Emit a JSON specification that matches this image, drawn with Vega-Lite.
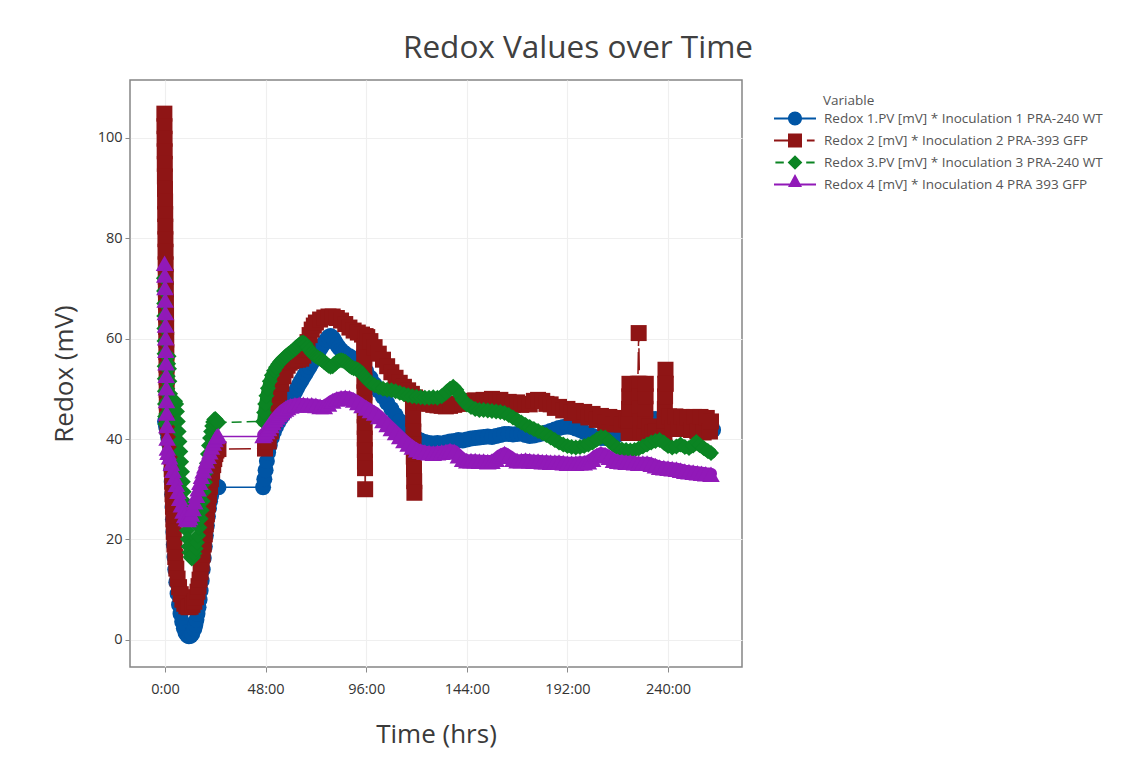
{
"$schema": "https://vega.github.io/schema/vega-lite/v6.json",
"width": 612, "height": 587,
"autosize": {"type": "none"},
"padding": {"left": 130, "top": 80, "right": 401, "bottom": 100},
"background": "white",
"config": {
 "font": "Open Sans",
 "view": {"stroke": "#858585", "strokeWidth": 1.5},
 "axis": {"labelFont": "Open Sans", "titleFont": "Open Sans", "labelColor": "#333333", "titleColor": "#3a3a3a", "titleFontWeight": "normal", "gridColor": "#efefef", "gridWidth": 1.2, "tickColor": "#8a8a8a", "tickSize": 5, "domain": false, "labelFontSize": 14.5, "titleFontSize": 26}
},
"title": {"text": "Redox Values over Time", "font": "Open Sans", "fontSize": 31.5, "fontWeight": "normal", "color": "#404040", "anchor": "middle", "frame": "group", "dx": 142, "offset": 16},
"data": {"values": [
{"s":1,"t":0,"v":43.5},{"s":1,"t":0.5,"v":42.5},{"s":1,"t":1,"v":41.5},{"s":1,"t":1.5,"v":40.3},{"s":1,"t":2,"v":39},{"s":1,"t":2.4,"v":37.5},{"s":1,"t":2.7,"v":36},{"s":1,"t":3,"v":34},{"s":1,"t":3.2,"v":31.5},{"s":1,"t":3.4,"v":29},{"s":1,"t":3.6,"v":26.5},{"s":1,"t":3.8,"v":24},{"s":1,"t":4,"v":21.5},{"s":1,"t":4.2,"v":19},{"s":1,"t":4.5,"v":16.5},{"s":1,"t":4.9,"v":14},{"s":1,"t":5.4,"v":11.5},{"s":1,"t":6,"v":9.2},{"s":1,"t":6.7,"v":7},{"s":1,"t":7.4,"v":5.2},{"s":1,"t":8.2,"v":3.6},{"s":1,"t":9,"v":2.3},{"s":1,"t":9.8,"v":1.4},{"s":1,"t":10.6,"v":0.9},{"s":1,"t":11.4,"v":0.7},{"s":1,"t":12.2,"v":0.8},{"s":1,"t":13,"v":1.2},{"s":1,"t":14,"v":2.2},{"s":1,"t":14.5,"v":3},{"s":1,"t":15,"v":4},{"s":1,"t":15.5,"v":5.2},{"s":1,"t":16,"v":6.5},{"s":1,"t":16.5,"v":8},{"s":1,"t":17,"v":9.8},{"s":1,"t":17.5,"v":11.8},{"s":1,"t":18,"v":14},{"s":1,"t":18.5,"v":16.3},{"s":1,"t":19,"v":18.6},{"s":1,"t":19.5,"v":20.8},{"s":1,"t":20,"v":22.8},{"s":1,"t":20.5,"v":24.6},{"s":1,"t":21,"v":26.2},{"s":1,"t":21.5,"v":27.6},{"s":1,"t":22,"v":28.7},{"s":1,"t":22.5,"v":29.6},{"s":1,"t":23,"v":30.2},{"s":1,"t":23.5,"v":30.5},{"s":1,"t":24,"v":30.6},{"s":1,"t":25,"v":30.5},{"s":1,"t":25.5,"v":30.4},
{"s":1,"t":46.8,"v":30.4},{"s":1,"t":47.4,"v":32},{"s":1,"t":48,"v":33.8},{"s":1,"t":48.6,"v":35.6},{"s":1,"t":49.2,"v":37.3},{"s":1,"t":50,"v":38.8},{"s":1,"t":51,"v":40.3},{"s":1,"t":52,"v":41.5},{"s":1,"t":53,"v":42.5},{"s":1,"t":54,"v":43.3},{"s":1,"t":55,"v":44},{"s":1,"t":56,"v":44.6},{"s":1,"t":57,"v":45.3},{"s":1,"t":58,"v":46},{"s":1,"t":59,"v":46.8},{"s":1,"t":60,"v":47.6},{"s":1,"t":61,"v":48.5},{"s":1,"t":62,"v":49.3},{"s":1,"t":63,"v":50.1},{"s":1,"t":64,"v":50.9},{"s":1,"t":65,"v":51.6},{"s":1,"t":66,"v":52.3},{"s":1,"t":67,"v":53},{"s":1,"t":68,"v":53.7},{"s":1,"t":69,"v":54.4},{"s":1,"t":70,"v":55.1},{"s":1,"t":71,"v":55.8},{"s":1,"t":72,"v":56.5},{"s":1,"t":73,"v":57.2},{"s":1,"t":74,"v":57.9},{"s":1,"t":75,"v":58.6},{"s":1,"t":76,"v":59.2},{"s":1,"t":77,"v":59.8},{"s":1,"t":78,"v":60.3},{"s":1,"t":79,"v":60.5},{"s":1,"t":80,"v":60.2},{"s":1,"t":81,"v":59.5},{"s":1,"t":82,"v":58.8},{"s":1,"t":83,"v":58.2},{"s":1,"t":84,"v":57.7},{"s":1,"t":85,"v":57.3},{"s":1,"t":86,"v":57},{"s":1,"t":88,"v":56.5},{"s":1,"t":90,"v":56},{"s":1,"t":92,"v":55.4},{"s":1,"t":94,"v":54.6},{"s":1,"t":96,"v":53.5},{"s":1,"t":98,"v":52.2},{"s":1,"t":100,"v":50.9},{"s":1,"t":102,"v":49.6},{"s":1,"t":104,"v":48.4},{"s":1,"t":106,"v":47.2},{"s":1,"t":108,"v":46},{"s":1,"t":110,"v":44.8},{"s":1,"t":112,"v":43.6},{"s":1,"t":114,"v":42.5},{"s":1,"t":116,"v":41.5},{"s":1,"t":118,"v":40.7},{"s":1,"t":120,"v":40.1},{"s":1,"t":122,"v":39.7},{"s":1,"t":124,"v":39.4},{"s":1,"t":126,"v":39.2},{"s":1,"t":128,"v":39.1},{"s":1,"t":130,"v":39.2},{"s":1,"t":132,"v":39.1},{"s":1,"t":134,"v":39.3},{"s":1,"t":136,"v":39.5},{"s":1,"t":138,"v":39.6},{"s":1,"t":140,"v":39.8},{"s":1,"t":142,"v":39.7},{"s":1,"t":144,"v":39.9},{"s":1,"t":146,"v":40.1},{"s":1,"t":148,"v":40.2},{"s":1,"t":150,"v":40.3},{"s":1,"t":152,"v":40.4},{"s":1,"t":154,"v":40.5},{"s":1,"t":156,"v":40.4},{"s":1,"t":158,"v":40.6},{"s":1,"t":160,"v":40.8},{"s":1,"t":162,"v":41},{"s":1,"t":164,"v":41},{"s":1,"t":166,"v":40.9},{"s":1,"t":168,"v":41},{"s":1,"t":170,"v":41.1},{"s":1,"t":172,"v":40.8},{"s":1,"t":174,"v":40.6},{"s":1,"t":176,"v":40.7},{"s":1,"t":178,"v":40.9},{"s":1,"t":180,"v":41.1},{"s":1,"t":182,"v":41.3},{"s":1,"t":184,"v":41.6},{"s":1,"t":186,"v":41.9},{"s":1,"t":188,"v":42.2},{"s":1,"t":190,"v":42.4},{"s":1,"t":192,"v":42.5},{"s":1,"t":194,"v":42.4},{"s":1,"t":196,"v":42.1},{"s":1,"t":198,"v":41.8},{"s":1,"t":200,"v":41.4},{"s":1,"t":202,"v":41},{"s":1,"t":204,"v":40.6},{"s":1,"t":206,"v":40.3},{"s":1,"t":208,"v":40.2},{"s":1,"t":210,"v":40.2},{"s":1,"t":212,"v":40.4},{"s":1,"t":214,"v":40.6},{"s":1,"t":216,"v":40.9},{"s":1,"t":218,"v":41.2},{"s":1,"t":220,"v":41.6},{"s":1,"t":222,"v":42},{"s":1,"t":224,"v":42.5},{"s":1,"t":226,"v":43},{"s":1,"t":228,"v":43.4},{"s":1,"t":230,"v":43.7},{"s":1,"t":232,"v":44},{"s":1,"t":234,"v":44},{"s":1,"t":236,"v":43.4},{"s":1,"t":238,"v":43},{"s":1,"t":240,"v":42.8},{"s":1,"t":242,"v":43.2},{"s":1,"t":244,"v":43.7},{"s":1,"t":246,"v":44},{"s":1,"t":248,"v":43.6},{"s":1,"t":250,"v":43.1},{"s":1,"t":252,"v":42.6},{"s":1,"t":254,"v":42.3},{"s":1,"t":256,"v":42.1},{"s":1,"t":258,"v":41.9},{"s":1,"t":260,"v":41.8},{"s":1,"t":261.5,"v":41.8},
{"s":2,"t":-0.3,"v":104.8},{"s":2,"t":-0.25,"v":102.3},{"s":2,"t":-0.2,"v":99.8},{"s":2,"t":-0.15,"v":97.3},{"s":2,"t":-0.1,"v":94.8},{"s":2,"t":-0.05,"v":92.3},{"s":2,"t":0,"v":89.8},{"s":2,"t":0.05,"v":87.3},{"s":2,"t":0.1,"v":84.8},{"s":2,"t":0.15,"v":82.3},{"s":2,"t":0.2,"v":79.8},{"s":2,"t":0.25,"v":77.3},{"s":2,"t":0.3,"v":74.8},{"s":2,"t":0.35,"v":72.3},{"s":2,"t":0.4,"v":69.8},{"s":2,"t":0.45,"v":67.3},{"s":2,"t":0.5,"v":64.8},{"s":2,"t":0.55,"v":62.3},{"s":2,"t":0.6,"v":59.8},{"s":2,"t":0.65,"v":57.3},{"s":2,"t":0.7,"v":54.8},{"s":2,"t":0.75,"v":52.3},{"s":2,"t":0.8,"v":49.8},{"s":2,"t":0.85,"v":47.3},{"s":2,"t":0.9,"v":44.8},{"s":2,"t":1.2,"v":42.5},{"s":2,"t":2,"v":40.3},{"s":2,"t":2.6,"v":38.5},{"s":2,"t":3,"v":36.5},{"s":2,"t":3.2,"v":34},{"s":2,"t":3.4,"v":31.5},{"s":2,"t":3.6,"v":29},{"s":2,"t":3.8,"v":26.5},{"s":2,"t":4,"v":24},{"s":2,"t":4.2,"v":21.5},{"s":2,"t":4.5,"v":19},{"s":2,"t":4.9,"v":16.5},{"s":2,"t":5.4,"v":14.2},{"s":2,"t":6,"v":12.2},{"s":2,"t":6.7,"v":10.5},{"s":2,"t":7.5,"v":9.1},{"s":2,"t":8.3,"v":8},{"s":2,"t":9.2,"v":7.2},{"s":2,"t":10.2,"v":6.7},{"s":2,"t":11.2,"v":6.5},{"s":2,"t":12.2,"v":6.6},{"s":2,"t":13.1,"v":7},{"s":2,"t":14,"v":7.6},{"s":2,"t":14.8,"v":8.5},{"s":2,"t":15.5,"v":9.6},{"s":2,"t":16,"v":10.7},{"s":2,"t":16.5,"v":12},{"s":2,"t":17,"v":13.5},{"s":2,"t":17.5,"v":15.2},{"s":2,"t":18,"v":17},{"s":2,"t":18.5,"v":19},{"s":2,"t":19,"v":21},{"s":2,"t":19.5,"v":23},{"s":2,"t":20,"v":25},{"s":2,"t":20.5,"v":27},{"s":2,"t":21,"v":28.8},{"s":2,"t":21.5,"v":30.5},{"s":2,"t":22,"v":32},{"s":2,"t":22.5,"v":33.5},{"s":2,"t":23,"v":34.8},{"s":2,"t":23.5,"v":36},{"s":2,"t":24,"v":37},{"s":2,"t":24.5,"v":37.7},{"s":2,"t":25,"v":38},{"s":2,"t":25.5,"v":38},
{"s":2,"t":47.7,"v":38.1},{"s":2,"t":49.5,"v":39.5},{"s":2,"t":50.5,"v":41.5},{"s":2,"t":51.5,"v":43.5},{"s":2,"t":52.5,"v":45.5},{"s":2,"t":53.5,"v":47.5},{"s":2,"t":54.5,"v":49.3},{"s":2,"t":55.5,"v":51},{"s":2,"t":56.5,"v":52.5},{"s":2,"t":57.5,"v":53.7},{"s":2,"t":58.5,"v":54.6},{"s":2,"t":59.5,"v":55.2},{"s":2,"t":60.5,"v":55.5},{"s":2,"t":62,"v":55.7},{"s":2,"t":63.5,"v":55.8},{"s":2,"t":65,"v":56},{"s":2,"t":66,"v":56.6},{"s":2,"t":67,"v":57.8},{"s":2,"t":68,"v":59.3},{"s":2,"t":69,"v":60.7},{"s":2,"t":70,"v":61.8},{"s":2,"t":71,"v":62.6},{"s":2,"t":72,"v":63.2},{"s":2,"t":74,"v":63.8},{"s":2,"t":76,"v":64.2},{"s":2,"t":78,"v":64.4},{"s":2,"t":80,"v":64.4},{"s":2,"t":82,"v":64.1},{"s":2,"t":84,"v":63.6},{"s":2,"t":86,"v":62.9},{"s":2,"t":88,"v":62.2},{"s":2,"t":90,"v":61.6},{"s":2,"t":92,"v":61.2},{"s":2,"t":94,"v":60.8},{"s":2,"t":95,"v":58.5},{"s":2,"t":95.04,"v":56.2},{"s":2,"t":95.08,"v":53.9},{"s":2,"t":95.12,"v":51.6},{"s":2,"t":95.16,"v":49.3},{"s":2,"t":95.2,"v":47},{"s":2,"t":95.24,"v":44.7},{"s":2,"t":95.28,"v":42.4},{"s":2,"t":95.32,"v":40.1},{"s":2,"t":95.36,"v":37.8},{"s":2,"t":95.4,"v":35.5},{"s":2,"t":95.44,"v":34.2},{"s":2,"t":95.5,"v":30},{"s":2,"t":95.7,"v":60.5},{"s":2,"t":96.5,"v":60.3},{"s":2,"t":98,"v":59.5},{"s":2,"t":100,"v":58.3},{"s":2,"t":102,"v":57},{"s":2,"t":104,"v":55.8},{"s":2,"t":106,"v":54.5},{"s":2,"t":108,"v":53.3},{"s":2,"t":110,"v":52.2},{"s":2,"t":112,"v":51.2},{"s":2,"t":114,"v":50.4},{"s":2,"t":116,"v":49.7},{"s":2,"t":117.8,"v":49},{"s":2,"t":118.3,"v":46.5},{"s":2,"t":118.4,"v":44},{"s":2,"t":118.5,"v":41.5},{"s":2,"t":118.6,"v":39},{"s":2,"t":118.7,"v":36.5},{"s":2,"t":118.8,"v":34},{"s":2,"t":118.9,"v":31.6},{"s":2,"t":119,"v":29.3},{"s":2,"t":119.3,"v":48.3},{"s":2,"t":120.5,"v":48},{"s":2,"t":122,"v":47.6},{"s":2,"t":124,"v":47.2},{"s":2,"t":126,"v":47},{"s":2,"t":128,"v":46.8},{"s":2,"t":130,"v":46.7},{"s":2,"t":132,"v":46.6},{"s":2,"t":134,"v":46.5},{"s":2,"t":136,"v":46.6},{"s":2,"t":138,"v":46.8},{"s":2,"t":140,"v":47},{"s":2,"t":142,"v":47.1},{"s":2,"t":144,"v":47.3},{"s":2,"t":146,"v":47.6},{"s":2,"t":148,"v":47.7},{"s":2,"t":150,"v":47.4},{"s":2,"t":152,"v":47.8},{"s":2,"t":154,"v":47.5},{"s":2,"t":156,"v":48},{"s":2,"t":158,"v":47.6},{"s":2,"t":160,"v":47.8},{"s":2,"t":162,"v":47.2},{"s":2,"t":164,"v":47.4},{"s":2,"t":166,"v":46.8},{"s":2,"t":168,"v":47.3},{"s":2,"t":170,"v":46.8},{"s":2,"t":172,"v":47},{"s":2,"t":174,"v":46.9},{"s":2,"t":176,"v":47.6},{"s":2,"t":178,"v":47.8},{"s":2,"t":180,"v":47.6},{"s":2,"t":182,"v":47},{"s":2,"t":184,"v":46.9},{"s":2,"t":186,"v":46.2},{"s":2,"t":188,"v":46.4},{"s":2,"t":190,"v":45.7},{"s":2,"t":192,"v":46},{"s":2,"t":194,"v":45.2},{"s":2,"t":196,"v":45.6},{"s":2,"t":198,"v":44.7},{"s":2,"t":200,"v":45.4},{"s":2,"t":202,"v":44.3},{"s":2,"t":204,"v":45},{"s":2,"t":206,"v":43.8},{"s":2,"t":208,"v":44.6},{"s":2,"t":210,"v":43.2},{"s":2,"t":212,"v":44.4},{"s":2,"t":214,"v":42.9},{"s":2,"t":216,"v":44.2},{"s":2,"t":218,"v":42.9},{"s":2,"t":220,"v":43.8},{"s":2,"t":221.2,"v":41.2},{"s":2,"t":221.3,"v":43.6},{"s":2,"t":221.4,"v":46},{"s":2,"t":221.5,"v":48.5},{"s":2,"t":221.6,"v":51},{"s":2,"t":225.6,"v":51},{"s":2,"t":226,"v":61.1},{"s":2,"t":226.4,"v":51},{"s":2,"t":226.5,"v":48.5},{"s":2,"t":226.6,"v":46},{"s":2,"t":226.7,"v":43.5},{"s":2,"t":226.8,"v":41.2},{"s":2,"t":229,"v":41.2},{"s":2,"t":229.1,"v":43.6},{"s":2,"t":229.2,"v":46},{"s":2,"t":229.3,"v":48.5},{"s":2,"t":229.4,"v":51},{"s":2,"t":231,"v":42.5},{"s":2,"t":232.5,"v":41.3},{"s":2,"t":234,"v":41.5},{"s":2,"t":238.3,"v":41.2},{"s":2,"t":238.4,"v":43.6},{"s":2,"t":238.5,"v":46},{"s":2,"t":238.6,"v":48.5},{"s":2,"t":238.7,"v":51},{"s":2,"t":238.8,"v":53.8},{"s":2,"t":238.9,"v":51},{"s":2,"t":240.5,"v":44.5},{"s":2,"t":242,"v":42.2},{"s":2,"t":243.5,"v":44.5},{"s":2,"t":245,"v":42},{"s":2,"t":246.5,"v":44.4},{"s":2,"t":248,"v":42},{"s":2,"t":249.5,"v":44.2},{"s":2,"t":251,"v":41.8},{"s":2,"t":252.5,"v":44.4},{"s":2,"t":254,"v":41.5},{"s":2,"t":255.5,"v":44.4},{"s":2,"t":257,"v":41.3},{"s":2,"t":258.5,"v":44.2},{"s":2,"t":260,"v":41.5},{"s":2,"t":260.5,"v":43.5},
{"s":3,"t":-0.5,"v":72},{"s":3,"t":-0.45,"v":69.5},{"s":3,"t":-0.4,"v":67},{"s":3,"t":-0.35,"v":64.5},{"s":3,"t":-0.3,"v":62},{"s":3,"t":-0.25,"v":59.5},{"s":3,"t":-0.2,"v":57},{"s":3,"t":-0.15,"v":54.5},{"s":3,"t":-0.1,"v":52},{"s":3,"t":-0.05,"v":49.5},{"s":3,"t":0,"v":47},{"s":3,"t":0.05,"v":44.5},{"s":3,"t":0.2,"v":43},{"s":3,"t":0.6,"v":45},{"s":3,"t":0.9,"v":47.5},{"s":3,"t":1.1,"v":50},{"s":3,"t":1.3,"v":52.5},{"s":3,"t":1.5,"v":55},{"s":3,"t":1.7,"v":56.5},{"s":3,"t":1.9,"v":54},{"s":3,"t":2.1,"v":51.5},{"s":3,"t":2.4,"v":49},{"s":3,"t":2.8,"v":47.5},{"s":3,"t":3.3,"v":47},{"s":3,"t":3.8,"v":47.2},{"s":3,"t":4.3,"v":47.5},{"s":3,"t":4.8,"v":47.5},{"s":3,"t":5.3,"v":47},{"s":3,"t":5.7,"v":45.5},{"s":3,"t":6.1,"v":43.5},{"s":3,"t":6.5,"v":41.5},{"s":3,"t":6.9,"v":39.5},{"s":3,"t":7.3,"v":37.5},{"s":3,"t":7.7,"v":35.5},{"s":3,"t":8.1,"v":33.5},{"s":3,"t":8.5,"v":31.5},{"s":3,"t":8.9,"v":29.5},{"s":3,"t":9.3,"v":27.5},{"s":3,"t":9.7,"v":25.5},{"s":3,"t":10.1,"v":23.6},{"s":3,"t":10.5,"v":21.8},{"s":3,"t":10.9,"v":20.1},{"s":3,"t":11.3,"v":18.6},{"s":3,"t":11.7,"v":17.4},{"s":3,"t":12.2,"v":16.5},{"s":3,"t":12.8,"v":16.2},{"s":3,"t":13.4,"v":16.5},{"s":3,"t":14,"v":17.2},{"s":3,"t":14.6,"v":18.2},{"s":3,"t":15.2,"v":19.4},{"s":3,"t":15.8,"v":20.8},{"s":3,"t":16.4,"v":22.4},{"s":3,"t":17,"v":24.1},{"s":3,"t":17.5,"v":25.8},{"s":3,"t":18,"v":27.6},{"s":3,"t":18.5,"v":29.5},{"s":3,"t":19,"v":31.4},{"s":3,"t":19.5,"v":33.3},{"s":3,"t":20,"v":35.2},{"s":3,"t":20.5,"v":37},{"s":3,"t":21,"v":38.7},{"s":3,"t":21.5,"v":40.2},{"s":3,"t":22,"v":41.5},{"s":3,"t":22.5,"v":42.6},{"s":3,"t":23,"v":43.4},{"s":3,"t":23.5,"v":43.9},{"s":3,"t":24,"v":44},{"s":3,"t":24.5,"v":43.7},{"s":3,"t":25,"v":43.4},{"s":3,"t":25.5,"v":43.3},
{"s":3,"t":46.8,"v":43.5},{"s":3,"t":47.3,"v":45.3},{"s":3,"t":47.8,"v":47},{"s":3,"t":48.4,"v":48.6},{"s":3,"t":49.1,"v":50.1},{"s":3,"t":50,"v":51.5},{"s":3,"t":51,"v":52.7},{"s":3,"t":52,"v":53.6},{"s":3,"t":53,"v":54.3},{"s":3,"t":54,"v":54.9},{"s":3,"t":55,"v":55.4},{"s":3,"t":56,"v":55.8},{"s":3,"t":57,"v":56.2},{"s":3,"t":58,"v":56.6},{"s":3,"t":59,"v":57},{"s":3,"t":60,"v":57.3},{"s":3,"t":61,"v":57.6},{"s":3,"t":62,"v":58},{"s":3,"t":63,"v":58.4},{"s":3,"t":64,"v":58.8},{"s":3,"t":65,"v":59.1},{"s":3,"t":66,"v":59.2},{"s":3,"t":67,"v":58.9},{"s":3,"t":68,"v":58.3},{"s":3,"t":69,"v":57.7},{"s":3,"t":70,"v":57.2},{"s":3,"t":71,"v":56.8},{"s":3,"t":72,"v":56.5},{"s":3,"t":73,"v":56.2},{"s":3,"t":74,"v":56},{"s":3,"t":75,"v":55.7},{"s":3,"t":76,"v":55.3},{"s":3,"t":77,"v":55},{"s":3,"t":78,"v":54.6},{"s":3,"t":79,"v":54.4},{"s":3,"t":80,"v":54.5},{"s":3,"t":81,"v":55},{"s":3,"t":82,"v":55.4},{"s":3,"t":83,"v":55.6},{"s":3,"t":84,"v":55.7},{"s":3,"t":85,"v":55.6},{"s":3,"t":86,"v":55.4},{"s":3,"t":87,"v":55},{"s":3,"t":88,"v":54.6},{"s":3,"t":89,"v":54.3},{"s":3,"t":90,"v":54.1},{"s":3,"t":91,"v":54},{"s":3,"t":92,"v":53.8},{"s":3,"t":93,"v":53.5},{"s":3,"t":94,"v":53},{"s":3,"t":95,"v":52.5},{"s":3,"t":96,"v":52},{"s":3,"t":97,"v":51.6},{"s":3,"t":98,"v":51.2},{"s":3,"t":100,"v":50.7},{"s":3,"t":102,"v":50.3},{"s":3,"t":104,"v":50},{"s":3,"t":106,"v":49.8},{"s":3,"t":108,"v":49.7},{"s":3,"t":110,"v":49.5},{"s":3,"t":112,"v":49.2},{"s":3,"t":114,"v":48.9},{"s":3,"t":116,"v":48.7},{"s":3,"t":118,"v":48.5},{"s":3,"t":120,"v":48.4},{"s":3,"t":122,"v":48.3},{"s":3,"t":124,"v":48.2},{"s":3,"t":126,"v":48.2},{"s":3,"t":128,"v":48.3},{"s":3,"t":130,"v":48.2},{"s":3,"t":132,"v":48.5},{"s":3,"t":134,"v":49.2},{"s":3,"t":136,"v":50},{"s":3,"t":137.5,"v":50.4},{"s":3,"t":139,"v":49.8},{"s":3,"t":140.5,"v":48.8},{"s":3,"t":142,"v":47.8},{"s":3,"t":144,"v":46.9},{"s":3,"t":146,"v":46.4},{"s":3,"t":148,"v":46},{"s":3,"t":150,"v":45.8},{"s":3,"t":152,"v":45.8},{"s":3,"t":154,"v":45.7},{"s":3,"t":156,"v":45.6},{"s":3,"t":158,"v":45.5},{"s":3,"t":160,"v":45.4},{"s":3,"t":162,"v":45.2},{"s":3,"t":164,"v":44.8},{"s":3,"t":166,"v":44.3},{"s":3,"t":168,"v":43.8},{"s":3,"t":170,"v":43.3},{"s":3,"t":172,"v":42.8},{"s":3,"t":174,"v":42.4},{"s":3,"t":176,"v":42},{"s":3,"t":178,"v":41.6},{"s":3,"t":180,"v":41.2},{"s":3,"t":182,"v":40.8},{"s":3,"t":184,"v":40.3},{"s":3,"t":186,"v":39.8},{"s":3,"t":188,"v":39.3},{"s":3,"t":190,"v":38.9},{"s":3,"t":192,"v":38.6},{"s":3,"t":194,"v":38.4},{"s":3,"t":196,"v":38.3},{"s":3,"t":198,"v":38.4},{"s":3,"t":200,"v":38.6},{"s":3,"t":202,"v":38.9},{"s":3,"t":204,"v":39.3},{"s":3,"t":206,"v":39.9},{"s":3,"t":208,"v":40.4},{"s":3,"t":210,"v":40.3},{"s":3,"t":212,"v":39.6},{"s":3,"t":214,"v":38.8},{"s":3,"t":216,"v":38.2},{"s":3,"t":218,"v":37.9},{"s":3,"t":220,"v":37.8},{"s":3,"t":222,"v":37.7},{"s":3,"t":224,"v":37.8},{"s":3,"t":226,"v":38.1},{"s":3,"t":228,"v":38.5},{"s":3,"t":230,"v":38.9},{"s":3,"t":232,"v":39.3},{"s":3,"t":234,"v":39.6},{"s":3,"t":236,"v":39.8},{"s":3,"t":238,"v":39.3},{"s":3,"t":240,"v":38.6},{"s":3,"t":242,"v":38.3},{"s":3,"t":244,"v":38.5},{"s":3,"t":246,"v":38.9},{"s":3,"t":248,"v":38.4},{"s":3,"t":250,"v":38.2},{"s":3,"t":252,"v":38.7},{"s":3,"t":253.5,"v":39.4},{"s":3,"t":255,"v":38.8},{"s":3,"t":257,"v":38.2},{"s":3,"t":259,"v":37.6},{"s":3,"t":260.5,"v":37.2},
{"s":4,"t":-0.2,"v":74.8},{"s":4,"t":-0.1,"v":72.5},{"s":4,"t":0,"v":70},{"s":4,"t":0.08,"v":67.5},{"s":4,"t":0.16,"v":65},{"s":4,"t":0.24,"v":62.5},{"s":4,"t":0.32,"v":60},{"s":4,"t":0.4,"v":57.5},{"s":4,"t":0.48,"v":55},{"s":4,"t":0.56,"v":52.5},{"s":4,"t":0.64,"v":50},{"s":4,"t":0.72,"v":47.5},{"s":4,"t":0.8,"v":45},{"s":4,"t":0.9,"v":42.5},{"s":4,"t":1,"v":40},{"s":4,"t":1.15,"v":38},{"s":4,"t":1.4,"v":37.2},{"s":4,"t":2.2,"v":36.3},{"s":4,"t":3,"v":35},{"s":4,"t":3.8,"v":33.6},{"s":4,"t":4.6,"v":32.2},{"s":4,"t":5.4,"v":30.8},{"s":4,"t":6.2,"v":29.4},{"s":4,"t":7,"v":28},{"s":4,"t":7.8,"v":26.7},{"s":4,"t":8.6,"v":25.5},{"s":4,"t":9.4,"v":24.6},{"s":4,"t":10.2,"v":24},{"s":4,"t":11,"v":23.8},{"s":4,"t":11.8,"v":24.2},{"s":4,"t":12.6,"v":24.9},{"s":4,"t":13.4,"v":26},{"s":4,"t":14.2,"v":27.3},{"s":4,"t":15,"v":28.6},{"s":4,"t":15.8,"v":29.9},{"s":4,"t":16.6,"v":31.2},{"s":4,"t":17.4,"v":32.4},{"s":4,"t":18.2,"v":33.5},{"s":4,"t":19,"v":34.5},{"s":4,"t":19.8,"v":35.5},{"s":4,"t":20.6,"v":36.4},{"s":4,"t":21.4,"v":37.3},{"s":4,"t":22.2,"v":38.2},{"s":4,"t":23,"v":39},{"s":4,"t":23.8,"v":39.7},{"s":4,"t":24.6,"v":40.3},{"s":4,"t":25.4,"v":40.5},
{"s":4,"t":46.8,"v":40.5},{"s":4,"t":47.5,"v":40.8},{"s":4,"t":48.5,"v":41.3},{"s":4,"t":49.5,"v":41.9},{"s":4,"t":50.5,"v":42.5},{"s":4,"t":51.5,"v":43.1},{"s":4,"t":52.5,"v":43.7},{"s":4,"t":53.5,"v":44.2},{"s":4,"t":54.5,"v":44.7},{"s":4,"t":55.5,"v":45.1},{"s":4,"t":56.5,"v":45.5},{"s":4,"t":57.5,"v":45.8},{"s":4,"t":58.5,"v":46.1},{"s":4,"t":60,"v":46.4},{"s":4,"t":62,"v":46.6},{"s":4,"t":64,"v":46.7},{"s":4,"t":66,"v":46.7},{"s":4,"t":68,"v":46.6},{"s":4,"t":70,"v":46.6},{"s":4,"t":72,"v":46.5},{"s":4,"t":74,"v":46.3},{"s":4,"t":76,"v":46.3},{"s":4,"t":78,"v":46.8},{"s":4,"t":80,"v":47.4},{"s":4,"t":82,"v":47.8},{"s":4,"t":84,"v":48},{"s":4,"t":86,"v":48.1},{"s":4,"t":88,"v":48},{"s":4,"t":90,"v":47.6},{"s":4,"t":92,"v":47.1},{"s":4,"t":94,"v":46.5},{"s":4,"t":96,"v":46},{"s":4,"t":98,"v":45.5},{"s":4,"t":100,"v":45},{"s":4,"t":102,"v":44.3},{"s":4,"t":104,"v":43.5},{"s":4,"t":106,"v":42.7},{"s":4,"t":108,"v":41.9},{"s":4,"t":110,"v":41.1},{"s":4,"t":112,"v":40.3},{"s":4,"t":114,"v":39.5},{"s":4,"t":116,"v":38.8},{"s":4,"t":118,"v":38.2},{"s":4,"t":120,"v":37.7},{"s":4,"t":122,"v":37.4},{"s":4,"t":124,"v":37.2},{"s":4,"t":126,"v":37.1},{"s":4,"t":128,"v":37},{"s":4,"t":130,"v":37.1},{"s":4,"t":132,"v":37.2},{"s":4,"t":134,"v":37.3},{"s":4,"t":136,"v":37.5},{"s":4,"t":138,"v":37.3},{"s":4,"t":140,"v":36.5},{"s":4,"t":142,"v":35.8},{"s":4,"t":144,"v":35.5},{"s":4,"t":146,"v":35.5},{"s":4,"t":148,"v":35.5},{"s":4,"t":150,"v":35.4},{"s":4,"t":152,"v":35.4},{"s":4,"t":154,"v":35.3},{"s":4,"t":156,"v":35.4},{"s":4,"t":158,"v":35.8},{"s":4,"t":160,"v":36.5},{"s":4,"t":162,"v":36.9},{"s":4,"t":164,"v":36.4},{"s":4,"t":166,"v":35.8},{"s":4,"t":168,"v":35.5},{"s":4,"t":170,"v":35.5},{"s":4,"t":172,"v":35.6},{"s":4,"t":174,"v":35.5},{"s":4,"t":176,"v":35.4},{"s":4,"t":178,"v":35.4},{"s":4,"t":180,"v":35.3},{"s":4,"t":182,"v":35.3},{"s":4,"t":184,"v":35.2},{"s":4,"t":186,"v":35.2},{"s":4,"t":188,"v":35.2},{"s":4,"t":190,"v":35.1},{"s":4,"t":192,"v":35},{"s":4,"t":194,"v":35},{"s":4,"t":196,"v":35},{"s":4,"t":198,"v":35.1},{"s":4,"t":200,"v":35.1},{"s":4,"t":202,"v":35.3},{"s":4,"t":204,"v":35.8},{"s":4,"t":206,"v":36.5},{"s":4,"t":208,"v":36.9},{"s":4,"t":210,"v":36.7},{"s":4,"t":212,"v":36.2},{"s":4,"t":214,"v":35.6},{"s":4,"t":216,"v":35.4},{"s":4,"t":218,"v":35.3},{"s":4,"t":220,"v":35.2},{"s":4,"t":222,"v":35.2},{"s":4,"t":224,"v":35.1},{"s":4,"t":226,"v":35},{"s":4,"t":228,"v":35},{"s":4,"t":230,"v":35},{"s":4,"t":232,"v":34.8},{"s":4,"t":234,"v":34.5},{"s":4,"t":236,"v":34.2},{"s":4,"t":238,"v":34.1},{"s":4,"t":240,"v":34},{"s":4,"t":242,"v":33.9},{"s":4,"t":244,"v":33.8},{"s":4,"t":246,"v":33.6},{"s":4,"t":248,"v":33.4},{"s":4,"t":250,"v":33.3},{"s":4,"t":252,"v":33.2},{"s":4,"t":254,"v":33.1},{"s":4,"t":256,"v":33},{"s":4,"t":258,"v":32.9},{"s":4,"t":260.5,"v":32.8}
]},
"transform": [
 {"lookup": "s", "from": {"data": {"values": [
  {"s":1,"Variable":"Redox 1.PV [mV] * Inoculation 1 PRA-240 WT"},
  {"s":2,"Variable":"Redox 2 [mV] * Inoculation 2 PRA-393 GFP"},
  {"s":3,"Variable":"Redox 3.PV [mV] * Inoculation 3 PRA-240 WT"},
  {"s":4,"Variable":"Redox 4 [mV] * Inoculation 4 PRA 393 GFP"}
 ]}, "key": "s", "fields": ["Variable"]}}
],
"encoding": {
 "x": {"field": "t", "type": "quantitative", "scale": {"domain": [-16.7, 275.3], "nice": false, "zero": false},
  "axis": {"title": "Time (hrs)", "values": [0, 48, 96, 144, 192, 240], "labelExpr": "datum.value + ':00'", "grid": true, "labelPadding": 10, "titlePadding": 26}},
 "y": {"field": "v", "type": "quantitative", "scale": {"domain": [-5.4, 111.5], "nice": false, "zero": false},
  "axis": {"title": "Redox (mV)", "values": [0, 20, 40, 60, 80, 100], "grid": true, "labelPadding": 3, "titlePadding": 20}},
 "color": {"field": "Variable", "type": "nominal",
  "scale": {"domain": ["Redox 1.PV [mV] * Inoculation 1 PRA-240 WT", "Redox 2 [mV] * Inoculation 2 PRA-393 GFP", "Redox 3.PV [mV] * Inoculation 3 PRA-240 WT", "Redox 4 [mV] * Inoculation 4 PRA 393 GFP"],
   "range": ["#0055A5", "#8F1515", "#0B8423", "#9119B8"]},
  "legend": {"title": "Variable", "orient": "none", "legendX": 658, "legendY": 14, "padding": 0,
   "labelFont": "Open Sans", "titleFont": "Open Sans", "labelFontSize": 13.5, "titleFontSize": 13.5, "titleFontWeight": "normal",
   "titleColor": "#555555", "labelColor": "#555555", "labelLimit": 500, "symbolSize": 196, "rowPadding": 0, "titlePadding": 4, "labelOffset": 22, "symbolOffset": 0,
   "encode": {
    "symbols": {"update": {
     "shape": [
      {"test": "datum.value === 'Redox 1.PV [mV] * Inoculation 1 PRA-240 WT'", "value": "M0,-1.5L0,-1.5Z M0,1.5L0,1.5Z M-3,-0.13L-0.95,-0.13L-0.95,0.13L-3,0.13Z M0.95,-0.13L3,-0.13L3,0.13L0.95,0.13Z M-1,0A1,1,0,1,1,1,0A1,1,0,1,1,-1,0Z"},
      {"test": "datum.value === 'Redox 2 [mV] * Inoculation 2 PRA-393 GFP'", "value": "M0,-1.5L0,-1.5Z M0,1.5L0,1.5Z M-3,-0.13L-1,-0.13L-1,0.13L-3,0.13Z M-1,-1L1,-1L1,1L-1,1Z M1.7,-0.13L2.8,-0.13L2.8,0.13L1.7,0.13Z"},
      {"test": "datum.value === 'Redox 3.PV [mV] * Inoculation 3 PRA-240 WT'", "value": "M0,-1.5L0,-1.5Z M0,1.5L0,1.5Z M-2.8,-0.13L-1.6,-0.13L-1.6,0.13L-2.8,0.13Z M0,-1.05L1.05,0L0,1.05L-1.05,0Z M1.6,-0.13L2.8,-0.13L2.8,0.13L1.6,0.13Z"},
      {"value": "M0,-1.5L0,-1.5Z M0,1.5L0,1.5Z M-3,-0.13L-0.6,-0.13L-0.6,0.13L-3,0.13Z M0,-1.5L1,0.35L-1,0.35Z M0.6,-0.13L3,-0.13L3,0.13L0.6,0.13Z"}
     ],
     "strokeWidth": {"value": 0},
     "opacity": {"value": 1}
    }},
    "title": {"update": {"dx": {"value": 35}}}
   }
  }}
},
"layer": [
 {"mark": {"type": "line", "strokeWidth": 1.5},
  "encoding": {"strokeDash": {"field": "s", "type": "nominal",
   "scale": {"domain": [1, 2, 3, 4], "range": [[1, 0], [22, 6], [10, 5], [1, 0]]}, "legend": null}}},
 {"transform": [{"filter": "datum.s <= 2"}],
  "mark": {"type": "point", "filled": true, "size": 256, "opacity": 1, "strokeWidth": 0},
  "encoding": {"shape": {"field": "s", "type": "nominal",
   "scale": {"domain": [1, 2, 3, 4], "range": ["circle", "square", "diamond", "M0,-1.1L1.1,0.85L-1.1,0.85Z"]}, "legend": null}}},
 {"transform": [{"filter": "datum.s == 3 && datum.t > 35"}],
  "mark": {"type": "line", "strokeWidth": 12, "strokeCap": "round", "strokeJoin": "round"},
  "encoding": {}},
 {"transform": [{"filter": "datum.s == 3"}],
  "mark": {"type": "point", "filled": true, "size": 256, "opacity": 1, "strokeWidth": 0},
  "encoding": {"shape": {"field": "s", "type": "nominal",
   "scale": {"domain": [1, 2, 3, 4], "range": ["circle", "square", "diamond", "M0,-1.1L1.1,0.85L-1.1,0.85Z"]}, "legend": null}}},
 {"transform": [{"filter": "datum.s == 4 && datum.t > 35"}],
  "mark": {"type": "line", "strokeWidth": 12, "strokeCap": "round", "strokeJoin": "round", "yOffset": -1.5},
  "encoding": {}},
 {"transform": [{"filter": "datum.s == 4"}],
  "mark": {"type": "point", "filled": true, "size": 256, "opacity": 1, "strokeWidth": 0},
  "encoding": {"shape": {"field": "s", "type": "nominal",
   "scale": {"domain": [1, 2, 3, 4], "range": ["circle", "square", "diamond", "M0,-1.1L1.1,0.85L-1.1,0.85Z"]}, "legend": null}}}
]
}
